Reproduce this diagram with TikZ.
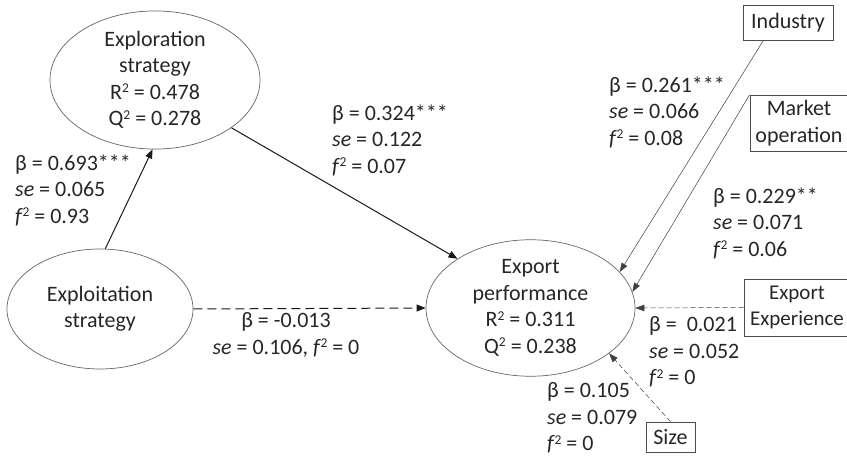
\documentclass[tikz,border=0pt]{standalone}
\usepackage{fontspec}
\setmainfont{Carlito}
\usetikzlibrary{shapes.geometric,arrows.meta}
\newcommand{\suptwo}{\raisebox{0.62ex}{\fontsize{13.5}{13.5}\selectfont 2}}
\newcommand{\fsq}{\textit{f}\kern-0.5pt\suptwo}
\newcommand{\seit}{\textit{se}}
\begin{document}
\begin{tikzpicture}[x=1pt,y=-1pt,
  every node/.style={font=\fontsize{22}{26.5}\selectfont, text=black!85},
  latent/.style={ellipse, draw=black!60, line width=0.7pt, inner sep=0pt, align=center},
  ctrl/.style={rectangle, draw=black!70, line width=0.7pt, align=center, inner sep=0pt},
  lbl/.style={align=left, anchor=west, inner sep=0pt},
  mainarr/.style={-{Triangle[length=9pt,width=7pt]}, line width=1pt, black!90},
  ctrlarr/.style={-{Triangle[length=9pt,width=6.5pt]}, line width=0.5pt, black!75},
]
\useasboundingbox (0,0) rectangle (847,457);

% latent variables
\node[latent, minimum width=210pt, minimum height=120pt] (explor) at (155,80)
  {Exploration\\strategy\\R\suptwo{} = 0.478\\Q\suptwo{} = 0.278};
\node[latent, minimum width=186pt, minimum height=120pt] (exploit) at (100,309)
  {Exploitation\\strategy};
\node[latent, minimum width=209pt, minimum height=118pt] (export) at (530.5,308)
  {Export\\performance\\R\suptwo{} = 0.311\\Q\suptwo{} = 0.238};

% control variables
\node[ctrl, minimum width=90pt, minimum height=35pt] (industry) at (788,22.5) {Industry};
\node[ctrl, minimum width=98pt, minimum height=56pt] (market) at (799,123) {Market\\operation};
\node[ctrl, minimum width=106pt, minimum height=57pt, font=\fontsize{21}{26}\selectfont] (expexp) at (797,307.5) {Export\\Experience};
\node[ctrl, minimum width=49pt, minimum height=30pt] (size) at (670.5,437) {Size};

% paths
\draw[mainarr] (exploit.85) -- (explor.268);
\draw[mainarr] (explor.-32) -- (export.146);
\draw[mainarr, dashed, dash pattern=on 9pt off 5pt] (exploit.east) -- (export.west);
\draw[ctrlarr] (industry.216) -- (export.22);
\draw[ctrlarr] (market.north west) -- (export.9);
\draw[ctrlarr, dashed, dash pattern=on 5pt off 3pt] (expexp.west) -- (export.east);
\draw[ctrlarr, dashed, dash pattern=on 5pt off 3pt] (size.north) -- (export.-30);

% labels
\node[lbl] (l1) at (15,190) {β = 0.693***\\\seit{} = 0.065\\\fsq{} = 0.93};
\node[lbl] (l2) at (332,140) {β = 0.324***\\\seit{} = 0.122\\\fsq{} = 0.07};
\node[lbl] (l3) at (609,112) {β = 0.261***\\\seit{} = 0.066\\\fsq{} = 0.08};
\node[lbl] (l4) at (713,223) {β = 0.229**\\\seit{} = 0.071\\\fsq{} = 0.06};
\node[align=center, inner sep=0pt] (l5) at (286,335) {β = -0.013\\\seit{} = 0.106, \fsq{} = 0};
\node[lbl] (l6) at (649,352) {β =\ \ 0.021\\\seit{} = 0.052\\\fsq{} = 0};
\node[lbl] (l7) at (547,418) {β = 0.105\\\seit{} = 0.079\\\fsq{} = 0};
\end{tikzpicture}
\end{document}
